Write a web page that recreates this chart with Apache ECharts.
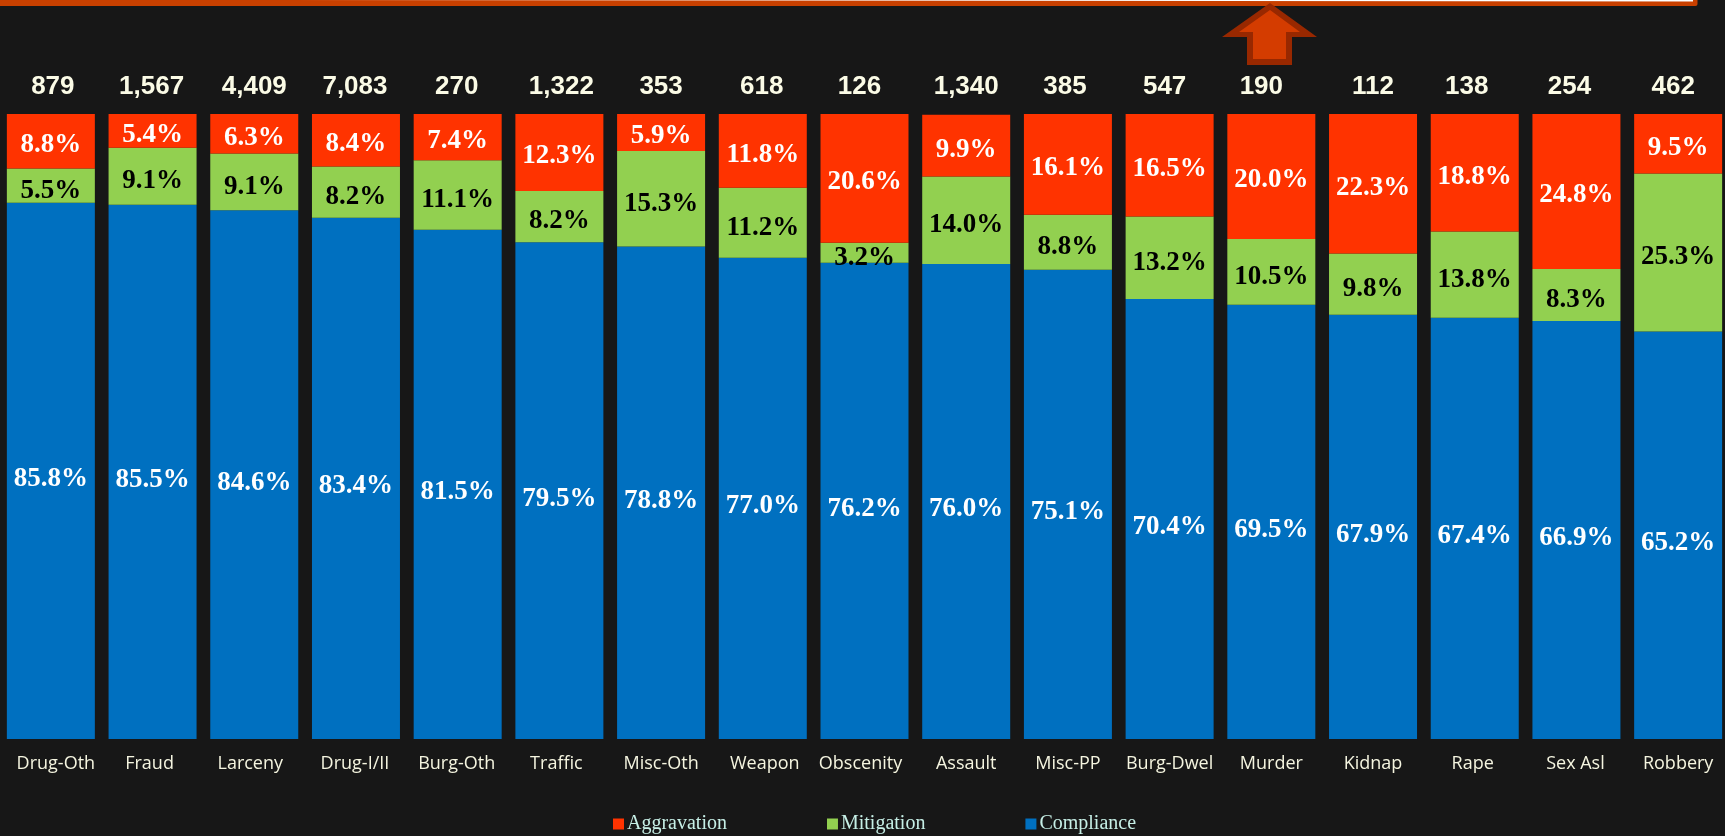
<!DOCTYPE html>
<html>
<head>
<meta charset="utf-8">
<style>
  html, body { margin: 0; padding: 0; background: #171717; }
  #chart { width: 1725px; height: 836px; }
</style>
<script src="https://cdn.jsdelivr.net/npm/echarts@6/dist/echarts.min.js"></script>
</head>
<body>
<div id="chart"></div>
<script>
const categories = ['Drug-Oth', 'Fraud', 'Larceny', 'Drug-I/II', 'Burg-Oth', 'Traffic', 'Misc-Oth', 'Weapon', 'Obscenity', 'Assault', 'Misc-PP', 'Burg-Dwel', 'Murder', 'Kidnap', 'Rape', 'Sex Asl', 'Robbery'];
const totals = [879, 1567, 4409, 7083, 270, 1322, 353, 618, 126, 1340, 385, 547, 190, 112, 138, 254, 462];
const aggravation = [8.8, 5.4, 6.3, 8.4, 7.4, 12.3, 5.9, 11.8, 20.6, 9.9, 16.1, 16.5, 20.0, 22.3, 18.8, 24.8, 9.5];
const mitigation = [5.5, 9.1, 9.1, 8.2, 11.1, 8.2, 15.3, 11.2, 3.2, 14.0, 8.8, 13.2, 10.5, 9.8, 13.8, 8.3, 25.3];
const compliance = [85.8, 85.5, 84.6, 83.4, 81.5, 79.5, 78.8, 77.0, 76.2, 76.0, 75.1, 70.4, 69.5, 67.9, 67.4, 66.9, 65.2];

// the labels in the original sit a little off their bars
const totalNudge = [2, -1, 0, -1, -1, 2, 0, -1, -5, 0, -3, -5, -10, 0, -8, -7, -5];
const categoryNudge = [5, -3, -4, -1, -1, -3, 0, 2, -4, 0, 0, 0, 0, 0, -2, -1, 0];

const chart = echarts.init(document.getElementById('chart'));

function segment(name, data, color, labelColor, labelDrop) {
  return {
    name,
    type: 'bar',
    stack: 'share',
    data,
    barWidth: 88,
    itemStyle: { color },
    label: {
      show: true,
      position: 'inside',
      offset: [0, labelDrop],
      color: labelColor,
      fontFamily: 'Liberation Serif',
      fontWeight: 'bold',
      fontSize: 27,
      formatter: p => p.value.toFixed(1) + '%'
    }
  };
}

// padding on one side pushes a centred axis label the other way
const categoryRich = {};
categoryNudge.forEach((n, i) => {
  categoryRich['n' + i] = {
    color: '#f5f5e0',
    fontFamily: 'Open Sans',
    fontSize: 18,
    padding: n > 0 ? [0, 0, 0, n * 2] : [0, -n * 2, 0, 0]
  };
});

chart.setOption({
  backgroundColor: '#171717',
  animation: false,
  grid: { left: 0, top: 114, width: 1729, height: 625, outerBoundsMode: 'none' },
  legend: {
    left: 608,
    top: 809,
    itemWidth: 11,
    itemHeight: 11,
    itemGap: 100,
    icon: 'rect',
    data: ['Aggravation', 'Mitigation', 'Compliance'],
    textStyle: { color: '#c6efe6', fontFamily: 'Liberation Serif', fontSize: 20, padding: [0, 0, 0, -2] }
  },
  xAxis: {
    type: 'category',
    data: categories,
    axisLine: { show: false },
    axisTick: { show: false },
    axisLabel: {
      margin: 16,
      interval: 0,
      formatter: (v, i) => `{n${i}|${v}}`,
      rich: categoryRich
    }
  },
  yAxis: { type: 'value', min: 0, max: 100, show: false, splitLine: { show: false } },
  series: [
    segment('Compliance', compliance, '#0070c0', '#ffffff', 8),
    segment('Mitigation', mitigation, '#92d050', '#000000', 5),
    segment('Aggravation', aggravation, '#ff3300', '#ffffff', 4),
    {
      name: 'Total',
      type: 'scatter',
      symbolSize: 0,
      itemStyle: { opacity: 1 },
      data: totals.map((v, i) => ({
        value: [categories[i], 100],
        total: v,
        label: { offset: [totalNudge[i], 0] }
      })),
      label: {
        show: true,
        position: 'top',
        distance: 14,
        color: '#fbfbe6',
        fontFamily: 'Liberation Sans',
        fontWeight: 'bold',
        fontSize: 26,
        formatter: p => p.data.total.toLocaleString('en-US')
      }
    }
  ],
  graphic: [
    { type: 'rect', shape: { x: -10, y: -10, width: 1707.5, height: 16, r: 2 }, style: { fill: '#c84000' } },
    { type: 'polygon', shape: { points: [[300, 0], [1693, 0], [1693, 1.5]] }, style: { fill: '#ffffff' } },
    { type: 'polygon', shape: { points: [[1270, 3], [1317, 37], [1292, 37], [1292, 65], [1247, 65], [1247, 37], [1222, 37]] }, style: { fill: '#982800' } },
    { type: 'polygon', shape: { points: [[1270, 10], [1300, 32], [1286, 32], [1286, 59], [1253, 59], [1253, 32], [1239, 32]] }, style: { fill: '#d43c00' } }
  ]
});
</script>
</body>
</html>
